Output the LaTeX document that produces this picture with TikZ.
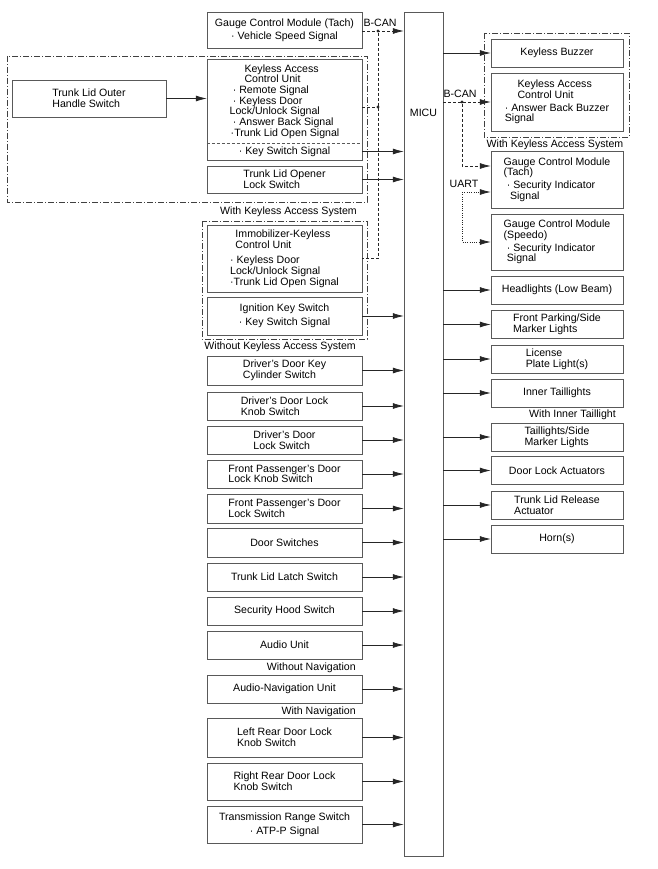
\documentclass[tikz,border=0pt]{standalone}
\usepackage{fontspec}
\setmainfont{Liberation Sans}
\usetikzlibrary{positioning, arrows.meta}
\tikzset{
  lbox/.style={draw=black!65, line width=0.5pt, minimum width=155pt, inner sep=0pt, align=left, text=black},
  rbox/.style={lbox, minimum width=132pt},
  sig/.style={draw=black!85, line width=0.7pt, -{Latex[length=11pt,width=6pt]}},
  bus/.style={draw=black!85, line width=0.7pt, dash pattern=on 3pt off 2pt},
  bcan/.style={sig, dash pattern=on 3pt off 2pt},
  uart/.style={sig, dash pattern=on 1pt off 1.3pt},
  grp/.style={draw=black!75, line width=0.55pt, dash pattern=on 6pt off 2pt on 1pt off 2pt},
  note/.style={inner sep=0pt, text=black},
  junc/.style={circle, fill=black!85, inner sep=0pt, minimum size=3.4pt},
}

\begin{document}
\begin{tikzpicture}[x=1pt, y=-1pt, font=\fontsize{10.6}{10.7}\selectfont]
  \useasboundingbox (0,0) rectangle (657,869);
  % MICU
  \node[draw=black!65, line width=0.5pt, minimum width=39pt, minimum height=844pt] (micu) at (423.5,434) {};
  \node[note] (micul) at (423.5,113) {MICU};

  % inputs, with keyless access system
  \node[lbox, align=center, minimum height=36pt] (gcm) at (284.5,30) {Gauge Control Module (Tach)\\[2pt]· Vehicle Speed Signal};
  \draw[grp] (7,56) rectangle (367,202);
  \node[lbox, draw=none, minimum height=83pt] (kacu) at (284.5,101.5) {\hspace*{1.4em}Keyless Access\\\hspace*{1.4em}Control Unit\\\hspace*{0.3em}· Remote Signal\\\hspace*{0.3em}· Keyless Door\\Lock/Unlock Signal\\\hspace*{0.3em}· Answer Back Signal\\\hspace*{0.1em}·Trunk Lid Open Signal};
  \node[lbox, draw=none, minimum height=17pt] (kss) at (284.5,151.5) {· Key Switch Signal};
  \draw[black!65, line width=0.5pt] (kacu.north west) rectangle (kss.south east);
  \draw[black!65, line width=0.5pt, dash pattern=on 3pt off 2pt] (kacu.south west) -- (kacu.south east);
  \node[lbox, minimum height=27pt] (tlo) at (284.5,179.5) {Trunk Lid Opener\\Lock Switch};
  \node[lbox, minimum width=154pt, minimum height=37pt] (tloh) at (89,98.5) {Trunk Lid Outer\\Handle Switch};
  \draw[sig] (tloh.east) -- (tloh.east -| kacu.west);
  \node[note, anchor=east] (kasl1) at (357,212) {With Keyless Access System};

  % inputs, without keyless access system
  \draw[grp] (202,221) rectangle (367,339);
  \node[lbox, minimum height=67pt] (imm) at (284.5,258.5) {\hspace*{0.5em}Immobilizer-Keyless\\\hspace*{0.5em}Control Unit\\[5pt]· Keyless Door\\Lock/Unlock Signal\\·Trunk Lid Open Signal};
  \node[lbox, align=center, minimum height=38pt] (igk) at (284.5,316) {Ignition Key Switch\\[3pt]· Key Switch Signal};
  \node[note, anchor=east] (kasl2) at (356,347) {Without Keyless Access System};

  % B-CAN, left
  \node[junc] (j1) at (378,31) {};
  \node[junc] (j2) at (378,107) {};
  \node[note] (bcl1) at (380,23) {B-CAN};
  \draw[bcan] (gcm.east |- j1) -- (j1 -| micu.west);
  \draw[bus] (kacu.east |- j2) -- (j2);
  \draw[bus] (j1) |- (imm.east);

  % switches
  \node[lbox, minimum height=28.5pt] (dkc) at (284.5,370.5) {Driver’s Door Key\\Cylinder Switch};
  \node[lbox, minimum height=28.5pt] (dlk) at (284.5,406) {Driver’s Door Lock\\Knob Switch};
  \node[lbox, minimum height=28.5pt] (dls) at (284.5,440) {Driver’s Door\\Lock Switch};
  \node[lbox, minimum height=28.5pt] (plk) at (284.5,474) {Front Passenger’s Door\\Lock Knob Switch};
  \node[lbox, minimum height=28.5pt] (pls) at (284.5,508.5) {Front Passenger’s Door\\Lock Switch};
  \node[lbox, minimum height=28.5pt] (dsw) at (284.5,542.5) {Door Switches};
  \node[lbox, minimum height=28.5pt] (tll) at (284.5,577) {Trunk Lid Latch Switch};
  \node[lbox, minimum height=28.5pt] (shs) at (284.5,611) {Security Hood Switch};
  \node[lbox, minimum height=28.5pt] (aud) at (284.5,645) {Audio Unit};
  \node[note, anchor=east] (navl1) at (356,668) {Without Navigation};
  \node[lbox, minimum height=28.5pt] (anu) at (284.5,689) {Audio-Navigation Unit};
  \node[note, anchor=east] (navl2) at (356,712) {With Navigation};
  \node[lbox, minimum height=39pt] (lrk) at (284.5,737.5) {Left Rear Door Lock\\Knob Switch};
  \node[lbox, minimum height=37pt] (rrk) at (284.5,781.5) {Right Rear Door Lock\\Knob Switch};
  \node[lbox, align=center, minimum height=37pt] (trs) at (284.5,824.5) {Transmission Range Switch\\[3pt]· ATP-P Signal};
  \foreach \n in {kss,tlo,igk,dkc,dlk,dls,plk,pls,dsw,tll,shs,aud,anu,lrk,rrk,trs}
    \draw[sig] (\n.east) -- (\n.east -| micu.west);

  % outputs
  \draw[grp] (484,33) rectangle (629,137);
  \node[rbox, minimum height=28pt] (kbz) at (557,53) {Keyless Buzzer};
  \node[rbox, minimum height=58pt] (rka) at (557,102) {\hspace*{1.2em}Keyless Access\\\hspace*{1.2em}Control Unit\\[2pt]· Answer Back Buzzer\\Signal};
  \node[note] (kasl3) at (555,145) {With Keyless Access System};
  \node[rbox, minimum height=57pt] (gct) at (557,179.5) {Gauge Control Module\\(Tach)\\[2pt]\hspace*{0.3em}· Security Indicator\\\hspace*{0.6em}Signal};
  \node[rbox, minimum height=56pt] (gcs) at (557,242) {Gauge Control Module\\(Speedo)\\[2pt]\hspace*{0.3em}· Security Indicator\\\hspace*{0.3em}Signal};
  \node[rbox, minimum height=28pt] (hdl) at (557,290) {Headlights (Low Beam)};
  \node[rbox, minimum height=28pt] (fpm) at (557,324.5) {Front Parking/Side\\Marker Lights};
  \node[rbox, minimum height=28pt] (lpl) at (557,359) {License\\Plate Light(s)};
  \node[rbox, minimum height=28pt] (itl) at (557,393) {Inner Taillights};
  \node[note, anchor=east] (itll) at (616,415) {With Inner Taillight};
  \node[rbox, minimum height=28pt] (tsm) at (557,437) {Taillights/Side\\Marker Lights};
  \node[rbox, minimum height=28pt] (dla) at (557,470.5) {Door Lock Actuators};
  \node[rbox, minimum height=28pt] (trr) at (557,505) {Trunk Lid Release\\Actuator};
  \node[rbox, minimum height=28pt] (hrn) at (557,539) {Horn(s)};
  \foreach \n in {kbz,hdl,fpm,lpl,itl,tsm,dla,trr,hrn}
    \draw[sig] (micu.east |- \n.west) -- (\n.west);

  % B-CAN and UART, right
  \node[junc] (j3) at (462,102) {};
  \node[note] (bcl2) at (460,94) {B-CAN};
  \draw[bcan] (micu.east |- rka.west) -- (rka.west);
  \draw[bcan] (j3) |- ([yshift=13.5pt]gct.west);
  \coordinate (u0) at (462,192);
  \node[note] (uartl) at (464,184) {UART};
  \draw[uart] (u0) -- ([yshift=-12.5pt]gct.west);
  \draw[uart] (u0) |- (gcs.west);
\end{tikzpicture}
\end{document}
